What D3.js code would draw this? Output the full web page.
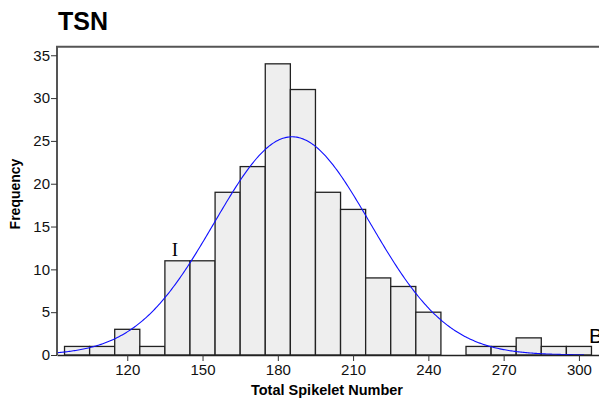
<!DOCTYPE html>
<html>
<head>
<meta charset="utf-8">
<script src="https://cdn.jsdelivr.net/npm/d3@7"></script>
<style>
  body { margin: 0; background: #fff; }
  svg { display: block; }
</style>
</head>
<body>
<div id="chart"></div>
<script>
// histogram bins (centre of each 10-wide bin) and counts
let binCentres = [100, 110, 120, 130, 140, 150, 160, 170, 180, 190, 200, 210, 220, 230, 240, 250, 260, 270, 280, 290, 300]
let counts = [1, 1, 3, 1, 11, 11, 19, 22, 34, 31, 19, 17, 9, 8, 5, 0, 1, 1, 2, 1, 1]
let binWidth = 10
let xTicks = [120, 150, 180, 210, 240, 270, 300]
let yTicks = [0, 5, 10, 15, 20, 25, 30, 35]
// fitted normal curve parameters
let fitMean = 185.7
let fitSd = 31

let margin = {top: 46.7, right: 0, bottom: 45, left: 57},
  W = 599, H = 400

let svg = d3.select("#chart")
  .append("svg")
  .attr("width", W)
  .attr("height", H)

let x = d3.scaleLinear()
  .domain([92, 308])
  .range([margin.left, W - margin.right])

let y = d3.scaleLinear()
  .domain([0, 36])
  .range([H - margin.bottom, margin.top])

// title
svg.append("text")
  .attr("x", 58)
  .attr("y", 29.5)
  .style("font-family", "Liberation Sans, Arial, sans-serif")
  .style("font-weight", "bold")
  .style("font-size", "25px")
  .text("TSN")

// bars
let data = binCentres.map((c, i) => ({c: c, n: counts[i]}))
svg.append("g")
  .selectAll("rect")
  .data(data.filter(d => d.n > 0))
  .enter()
  .append("rect")
    .attr("x", d => x(d.c - binWidth / 2))
    .attr("y", d => y(d.n))
    .attr("width", d => x(d.c + binWidth / 2) - x(d.c - binWidth / 2))
    .attr("height", d => y(0) - y(d.n))
    .style("fill", "#eeeeee")
    .style("stroke", "#222")
    .style("stroke-width", 1.3)

// normal fit
let total = d3.sum(counts)
let curveX = d3.range(92, 302.1, 0.5)
let fit = curveX.map(v => [v, total * binWidth / (fitSd * Math.sqrt(2 * Math.PI)) * Math.exp(-0.5 * Math.pow((v - fitMean) / fitSd, 2))])
svg.append("path")
  .datum(fit)
  .attr("d", d3.line().x(d => x(d[0])).y(d => y(d[1])))
  .style("fill", "none")
  .style("stroke", "#1010ff")
  .style("stroke-width", 1.1)

// frame lines (top + left)
svg.append("path")
  .attr("d", "M" + margin.left + "," + (H - margin.bottom) + "V" + margin.top + "H" + W)
  .style("fill", "none")
  .style("stroke", "#555")
  .style("stroke-width", 2)

// axes
let xAxis = svg.append("g")
  .attr("transform", "translate(0," + (H - margin.bottom) + ")")
  .call(d3.axisBottom(x).tickValues(xTicks).tickSize(6).tickSizeOuter(0))
xAxis.select(".domain").style("stroke", "#222").style("stroke-width", 1.5)

let yAxis = svg.append("g")
  .attr("transform", "translate(" + margin.left + ",0)")
  .call(d3.axisLeft(y).tickValues(yTicks).tickSize(6).tickSizeOuter(0))
yAxis.select(".domain").remove()

svg.selectAll(".tick line").style("stroke", "#333")
svg.selectAll(".tick text")
  .style("font-family", "Liberation Sans, Arial, sans-serif")
  .style("font-size", "15px")
  .style("fill", "#111")
xAxis.selectAll(".tick text").attr("dy", "0.8em").attr("y", 8)
yAxis.selectAll(".tick text").attr("x", -7)

// axis titles
svg.append("text")
  .attr("x", 327)
  .attr("y", 395)
  .attr("text-anchor", "middle")
  .style("font-family", "Liberation Sans, Arial, sans-serif")
  .style("font-weight", "bold")
  .style("font-size", "14.5px")
  .text("Total Spikelet Number")

svg.append("text")
  .attr("transform", "translate(20,194) rotate(-90)")
  .attr("text-anchor", "middle")
  .style("font-family", "Liberation Sans, Arial, sans-serif")
  .style("font-weight", "bold")
  .style("font-size", "14px")
  .text("Frequency")

// annotations
svg.append("text")
  .attr("x", 175)
  .attr("y", 256)
  .attr("text-anchor", "middle")
  .style("font-family", "Liberation Serif, Times New Roman, serif")
  .style("font-size", "19px")
  .text("I")

svg.append("text")
  .attr("x", 589)
  .attr("y", 343)
  .style("font-family", "Liberation Sans, Arial, sans-serif")
  .style("font-size", "21px")
  .text("B")
</script>
</body>
</html>
